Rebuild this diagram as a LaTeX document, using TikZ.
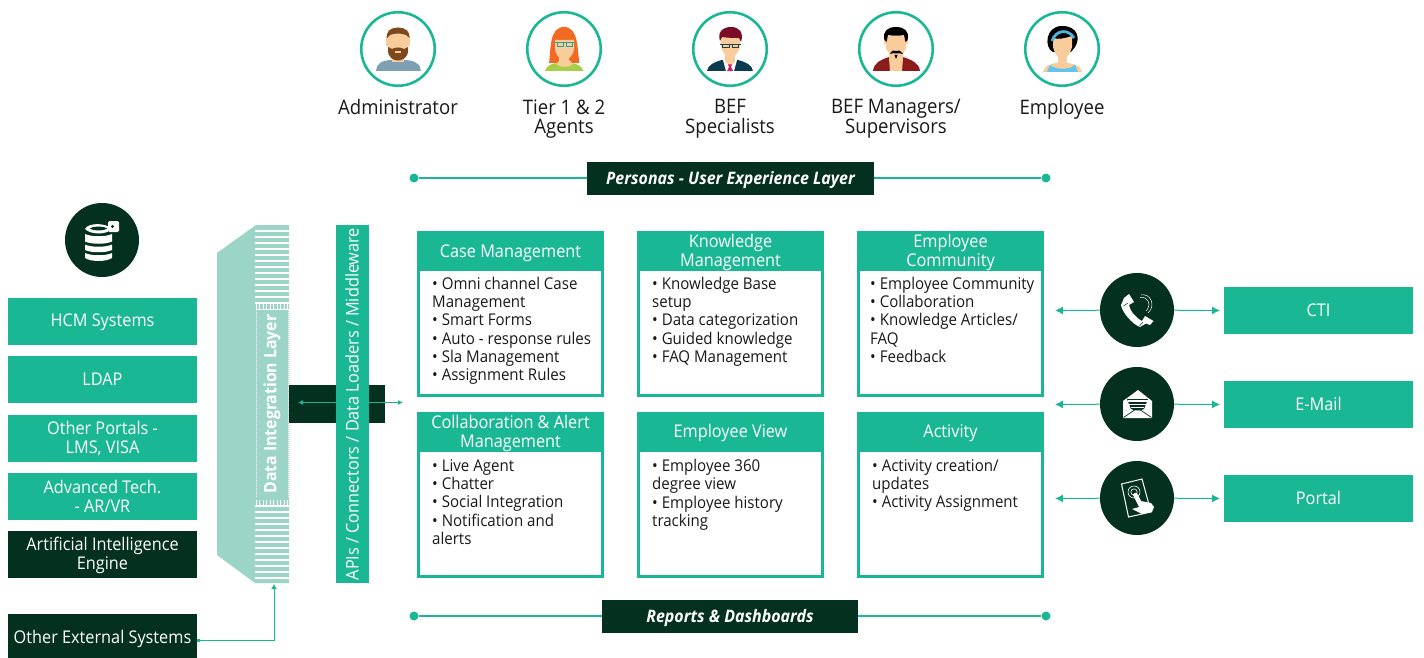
\documentclass[tikz,border=0pt]{standalone}
\usepackage{fontspec}
\setmainfont[FakeStretch=0.93]{Open Sans}
\usetikzlibrary{arrows.meta}
\definecolor{gr}{HTML}{1AB794}
\definecolor{dk}{HTML}{03301F}
\definecolor{pale}{HTML}{9CD5C7}
\definecolor{skin}{HTML}{F8CD9B}
\newcommand{\lowered}[2]{\raisebox{#1}[0pt][0pt]{#2}}
\tikzset{
  x=1pt,y=-1pt,
  ring/.style={circle,draw=gr,line width=2.6pt,minimum size=73.5pt,inner sep=0pt,fill=white},
  plabel/.style={align=center,font=\fontsize{20}{19.5}\selectfont,text=black!90,anchor=north,inner sep=0pt},
  sysbox/.style={rectangle,fill=gr,text=white,minimum width=189pt,minimum height=47pt,inner sep=0pt,align=center,font=\fontsize{17.5}{18.5}\selectfont},
  darkbox/.style={sysbox,fill=dk},
  layerbox/.style={rectangle,fill=dk,text=white,inner sep=0pt,font=\fontsize{17.2}{18}\selectfont\bfseries\itshape},
  iconball/.style={circle,fill=dk,minimum size=74pt,inner sep=0pt},
  cardframe/.style={rectangle,draw=gr,line width=2.6pt,fill=white,minimum width=184.5pt,minimum height=163.5pt,inner sep=0pt},
  cardhead/.style={rectangle,fill=gr,minimum width=187pt,minimum height=38.5pt,inner sep=0pt},
  headtext/.style={inner sep=0pt,text=white,align=center,font=\fontsize{17.5}{19}\selectfont},
  cardtext/.style={anchor=north west,inner sep=0pt,align=left,font=\fontsize{16.2}{18.35}\selectfont,text=black!90},
  thin conn/.style={draw=gr,line width=.8pt,{Latex[length=5pt,width=5pt]}-{Latex[length=5pt,width=5pt]}},
  rule/.style={draw=gr,line width=1.6pt},
  ruledot/.style={circle,fill=gr,minimum size=9pt,inner sep=0pt},
  vtext/.style={rotate=90,text=white,inner sep=0pt},
}
\begin{document}
\begin{tikzpicture}
\useasboundingbox (0,0) rectangle (1424,658);

% ---- personas ----
\node[ring] (p1) at (398,49) {};
\node[ring] (p2) at (564,49) {};
\node[ring] (p3) at (730,49) {};
\node[ring] (p4) at (896,49) {};
\node[ring] (p5) at (1062,49) {};

% administrator
\fill[color={rgb,255:red,127;green,160;blue,178}] (376,71) .. controls (376,64) and (382,60) .. (392,60) -- (404,60) .. controls (414,60) and (421,64) .. (421,71) -- cycle;
\fill[skin] (392,52) rectangle (404,62);
\fill[skin] (386,36) rectangle (410,46);
\fill[skin] (388,30) rectangle (408,55);
\fill[color={rgb,255:red,125;green,72;blue,30}] (388,47) -- (392,49) .. controls (395,47) and (401,47) .. (404,49) -- (408,47) -- (408,52) .. controls (407,58) and (402,60.5) .. (398,60.5) .. controls (394,60.5) and (389,58) .. (388,52) -- cycle;
\fill[color={rgb,255:red,125;green,72;blue,30}] (387,38) .. controls (386,31) and (391,27.5) .. (398,27.5) .. controls (405,27.5) and (410,31) .. (409.5,38) -- (406,35) .. controls (401,33) and (395,33) .. (390,35) -- cycle;
\fill[skin] (395,51.5) rectangle (401,53);

% tier agents
\fill[color={rgb,255:red,166;green,206;blue,70}] (545,71) .. controls (546,66) and (552,63) .. (558,63) -- (570,63) .. controls (576,63) and (582,66) .. (583.5,71) -- cycle;
\fill[color={rgb,255:red,242;green,106;blue,33}] (549,63) .. controls (551,50) and (549,27) .. (564,27) .. controls (579,27) and (577,50) .. (579.5,63) -- cycle;
\fill[skin] (559,54) rectangle (569,64) ;
\fill[skin] (555,40) -- (574,40) -- (574,50) .. controls (572,57) and (568,60) .. (564.5,60) .. controls (561,60) and (557,57) .. (555,50) -- cycle;
\fill[skin] (556,64) -- (560,60) -- (569,60) -- (573,64) .. controls (569,68) and (560,68) .. (556,64) -- cycle;
\draw[color={rgb,255:red,40;green,160;blue,150},line width=.8pt] (555,42.5) -- (574,42.5) (557,42.5) rectangle (563,46) (566,42.5) rectangle (572,46);

% BEF specialist
\fill[color={rgb,255:red,10;green,59;blue,80}] (707,71) .. controls (708,65) and (714,62) .. (722,60) -- (738,60) .. controls (746,62) and (752,65) .. (753,71) -- cycle;
\fill[white] (723,60) -- (737,60) -- (734,71) -- (726,71) -- cycle;
\fill[skin] (725,52) rectangle (735,62);
\fill[skin] (725,62) -- (735,62) -- (730,65.5) -- cycle;
\fill[color={rgb,255:red,222;green,20;blue,107}] (728,64.5) -- (732,64.5) -- (731,67) -- (733,71) -- (727,71) -- (729,67) -- cycle;
\fill[skin] (721,36) -- (740,36) -- (740,47) .. controls (738,54) and (734,57) .. (730.5,57) .. controls (727,57) and (723,54) .. (721,47) -- cycle;
\fill[color={rgb,255:red,122;green,12;blue,38}] (720,41) .. controls (717,32) and (723,27) .. (731,27) .. controls (739,27) and (744,32) .. (741,42) -- (739,38) .. controls (735,38) and (728,38) .. (722,37) -- cycle;
\draw[color={rgb,255:red,30;green,70;blue,70},line width=.9pt] (720,44) -- (741,44) (722.5,44) rectangle (729,47.5) (732,44) rectangle (738.5,47.5);

% managers
\fill[color={rgb,255:red,140;green,28;blue,28}] (873,71) .. controls (874,63) and (880,60) .. (889,57) -- (903,57) .. controls (912,60) and (919,63) .. (920,71) -- cycle;
\fill[skin] (889,52) -- (903,52) -- (903,58) -- (902,71) -- (890,71) -- (889,58) -- cycle;
\fill[skin] (884,38) rectangle (908,44);
\fill[skin] (886,36) -- (906,36) -- (906,48) .. controls (903,55) and (899,58) .. (896,58) .. controls (893,58) and (889,55) .. (886,48) -- cycle;
\fill[black] (884.5,40) .. controls (882,31) and (888,27) .. (896,27) .. controls (904,27) and (910,31) .. (907.5,40) -- (905.5,42) -- (904,35) .. controls (899,36) and (893,36) .. (888,35) -- (886.5,42) -- cycle;
\fill[black] (890,54) .. controls (892,50) and (894,50) .. (896,51) .. controls (898,50) and (900,50) .. (903,54) .. controls (900,53) and (898,53) .. (896,53.5) .. controls (894,53) and (892,53) .. (890,54) -- cycle;
\fill[black] (894.5,55) -- (897.5,55) -- (896,59) -- cycle;

% employee
\fill[skin] (1043,72) .. controls (1044,66) and (1050,64) .. (1056,63) -- (1068,63) .. controls (1075,64) and (1081,66) .. (1082,72) -- cycle;
\fill[color={rgb,255:red,98;green,195;blue,236}] (1047,72) -- (1050,65) .. controls (1056,70) and (1069,70) .. (1075,65) -- (1078,72) -- cycle;
\fill[black] (1053,52) .. controls (1044,48) and (1045,26) .. (1062,26) .. controls (1079,26) and (1080,40) .. (1075,47) -- (1071,52) -- cycle;
\fill[skin] (1058,54) rectangle (1067,65);
\fill[skin] (1053,38) .. controls (1058,40) and (1066,38) .. (1072,36) -- (1072,47) .. controls (1070,55) and (1066,59) .. (1062.5,59) .. controls (1059,59) and (1055,55) .. (1053,47) -- cycle;
\draw[color={rgb,255:red,79;green,179;blue,222},line width=2.8pt] (1052,41) .. controls (1056,29) and (1069,29) .. (1074,38);

% labels
\node[plabel] (l1) at (398,99.5) {Administrator};
\node[plabel] (l2) at (564,99.5) {Tier 1 \& 2\\Agents};
\node[plabel] (l3) at (730,99.5) {BEF\\Specialists};
\node[plabel] (l4) at (896,99.5) {BEF Managers/\\Supervisors};
\node[plabel] (l5) at (1062,99.5) {Employee};

% ---- layers ----
\node[ruledot] (ua) at (414,178) {};
\node[ruledot] (ub) at (1046,178) {};
\draw[rule] (ua) -- (ub);
\node[layerbox,minimum width=287pt,minimum height=33pt] (ux) at (730.5,178.5) {\lowered{-6pt}{Personas - User Experience Layer}};
\node[ruledot] (ra) at (414,616) {};
\node[ruledot] (rb) at (1046,616) {};
\draw[rule] (ra) -- (rb);
\node[layerbox,minimum width=256pt,minimum height=33pt] (rp) at (730,616.5) {\lowered{-6pt}{Reports \& Dashboards}};

% ---- left systems ----
\node[iconball] (db) at (102,240) {};
\fill[white] (85,229) .. controls (88,222.5) and (106,222.5) .. (112,229) .. controls (106,235) and (91,235) .. (85,229) -- cycle;
\fill[dk] (90,228.5) .. controls (93,226) and (104,226) .. (107,228.5) .. controls (104,231) and (93,231) .. (90,228.5) -- cycle;
\fill[white] (85,234) .. controls (91,237) and (106,237) .. (112,234) -- (112,241.5) .. controls (106,244.5) and (91,244.5) .. (85,241.5) -- cycle;
\fill[white] (85,244.5) .. controls (91,247.5) and (106,247.5) .. (112,244.5) -- (112,250) .. controls (106,253) and (91,253) .. (85,250) -- cycle;
\fill[white] (85,253) .. controls (91,256) and (106,256) .. (112,253) -- (112,258) .. controls (106,262) and (91,262) .. (85,258) -- cycle;
\fill[white,rounded corners=1.5pt] (108,221) rectangle (119,232);
\fill[dk] (112.5,226.5) circle (1.6);
\node[sysbox] (s1) at (102.5,321.5) {\lowered{-5pt}{HCM Systems}};
\node[sysbox] (s2) at (102.5,379.5) {\lowered{-6pt}{LDAP}};
\node[sysbox] (s3) at (102.5,438.5) {Other Portals -\\LMS, VISA};
\node[sysbox] (s4) at (102.5,496.5) {Advanced Tech.\\- AR/VR};
\node[darkbox] (s5) at (102.5,554.5) {};
\node[inner sep=0pt,text=white,align=center,font=\fontsize{17.5}{18.5}\selectfont] (s5t) at (102.5,555.5) {Artificial Intelligence\\Engine};
\node[darkbox,minimum height=44pt] (s6) at (102.5,636) {\lowered{-7pt}{Other External Systems}};

% ---- data integration layer ----
\fill[pale] (217,253) -- (256,225) -- (289,225) -- (289,583) -- (255,583) -- (217,555) -- cycle;
\foreach \yy in {231,237,...,303} \fill[white] (255,\yy-.6) rectangle (289,\yy+.6);
\foreach \yy in {506,512,...,578} \fill[white] (255,\yy-.6) rectangle (289,\yy+.6);
\foreach \xx in {256,259.5,...,289} {\fill[white] (\xx-.4,303) rectangle (\xx+.4,309); \fill[white] (\xx-.4,500) rectangle (\xx+.4,506);}
\draw[white,line width=1pt,densely dotted] (256.3,309.5) -- (256.3,497) (288.3,309.5) -- (288.3,497);
\draw[white,line width=.8pt] (256,309.5) -- (288.5,309.5);
\node[coordinate] (dlayer) at (274,584) {};
\node[coordinate] (dstart) at (197,640.5) {};
\node[coordinate] (dcorner) at (274,640.5) {};
\node[vtext,font=\fontsize{17}{18}\selectfont\bfseries] (dl) at (272,404) {Data Integration Layer};

% ---- middleware band ----
\node[rectangle,fill=dk,minimum width=96pt,minimum height=38pt,inner sep=0pt] (link) at (337,404) {};
\node[coordinate] (la) at (298,402.5) {};
\node[coordinate] (lb) at (403,402.5) {};
\draw[thin conn] (la) -- (lb);
\node[rectangle,fill=gr,minimum width=33pt,minimum height=358pt,inner sep=0pt] (api) at (352.5,404) {};
\node[vtext,font=\fontsize{17.5}{18}\selectfont] (apit) at (352,404) {APIs / Connectors / Data Loaders / Middleware};

% external connector
\draw[draw=gr,line width=1pt,-{Latex[length=5pt,width=6pt]}] (dstart) -- (dcorner) -- (dlayer);
\fill[gr] (197,639) rectangle (200,642);

% ---- cards ----
\newcommand{\card}[8]{%
  \node[cardframe] (#1) at (#2,#3) {};
  \node[cardhead] (#1h) at (#2,#3-62.5) {};
  \node[headtext] (#1m) at (#2,#3-62.5+#8) {#4};
  \node[cardtext] (#1t) at (#2+#5,#3+#6) {#7};
}
\card{c1}{510.5}{314}{Case Management}{-78.5}{-37.5}{• Omni channel Case\\Management\\• Smart Forms\\• Auto - response rules\\• Sla Management\\• Assignment Rules}{1.5}
\card{c2}{730.5}{314}{Knowledge\\Management}{-78.5}{-37.5}{• Knowledge Base\\setup\\• Data categorization\\• Guided knowledge\\• FAQ Management}{0.5}
\card{c3}{950.5}{314}{Employee\\Community}{-80.5}{-37.5}{• Employee Community\\• Collaboration\\• Knowledge Articles/\\FAQ\\• Feedback}{0.5}
\card{c4}{510.5}{495}{Collaboration \& Alert\\Management}{-78.5}{-36}{• Live Agent\\• Chatter\\• Social Integration\\• Notification and\\alerts}{0.5}
\card{c5}{730.5}{495}{Employee View}{-78.5}{-36}{• Employee 360\\degree view\\• Employee history\\tracking}{0}
\card{c6}{950.5}{495}{Activity}{-78.5}{-36}{• Activity creation/\\updates\\• Activity Assignment}{0.5}

% ---- channels ----
\node[iconball] (i1) at (1137,310) {};
\node[iconball] (i2) at (1137,404) {};
\node[iconball] (i3) at (1137,498) {};
\node[sysbox] (b1) at (1318.5,310.5) {\lowered{-6pt}{CTI}};
\node[sysbox] (b2) at (1318.5,404.5) {\lowered{-6pt}{E-Mail}};
\node[sysbox] (b3) at (1318.5,498.5) {\lowered{-6pt}{Portal}};
\node[coordinate] (a1) at (1055,310.5) {};
\node[coordinate] (a2) at (1055,404.5) {};
\node[coordinate] (a3) at (1055,498.5) {};
\node[coordinate] (e1) at (1220,310.5) {};
\node[coordinate] (e2) at (1220,404.5) {};
\node[coordinate] (e3) at (1220,498.5) {};
\draw[draw=gr,line width=1pt,{Latex[length=8pt,width=8pt]}-] (a1) -- (i1);
\draw[draw=gr,line width=1pt,-{Latex[length=8pt,width=8pt]}] (i1) -- (e1);
\draw[draw=gr,line width=1pt,{Latex[length=8pt,width=8pt]}-] (a2) -- (i2);
\draw[draw=gr,line width=1pt,-{Latex[length=8pt,width=8pt]}] (i2) -- (e2);
\draw[draw=gr,line width=1pt,{Latex[length=8pt,width=8pt]}-] (a3) -- (i3);
\draw[draw=gr,line width=1pt,-{Latex[length=8pt,width=8pt]}] (i3) -- (e3);

% phone icon
\fill[white] (1124,298) -- (1129,294) -- (1134,302) -- (1129,305) .. controls (1130,311) and (1136,318) .. (1142,321) -- (1145,316) -- (1153.5,321) -- (1150,325) -- (1146,323.5) -- (1140,327) .. controls (1132,324) and (1122,312) .. (1121,305) -- cycle;
\draw[dk,line width=.5pt] (1128,303) -- (1123.5,306) (1143,322) -- (1139.5,326);
\draw[white,line width=.5pt] (1141,295) .. controls (1151,293) and (1156,306) .. (1148,313);
\draw[white,line width=.5pt] (1140,297.5) .. controls (1148,296) and (1152,305) .. (1146,311);
% envelope icon
\fill[white] (1123,401) -- (1138,390) -- (1152,401) -- (1152,418) -- (1123,418) -- cycle;
\draw[dk,line width=.7pt] (1123.5,417.5) -- (1137.5,408) -- (1151.5,417.5);
\fill[dk] (1127,399) -- (1148,399) -- (1144,409) .. controls (1140,411) and (1135,411) .. (1131,409) -- cycle;
\fill[white] (1127.5,400) rectangle (1147.5,402);
\fill[white] (1129,403.5) rectangle (1146,405);
\fill[white] (1131,406.5) rectangle (1144,408);
% touch icon
\draw[white,line width=1pt] (1121.5,484) -- (1142,479) -- (1151,512) -- (1128.5,517) -- cycle;
\draw[white,line width=.6pt] (1134,492) circle (3.2) (1134,492) circle (6);
\fill[white] (1133,495) .. controls (1134,492) and (1137,492) .. (1138,495) -- (1141,501) -- (1151,503) -- (1154,507) -- (1152,512) -- (1142,514) -- (1132,509) -- (1139,507) -- cycle;
\end{tikzpicture}
\end{document}
